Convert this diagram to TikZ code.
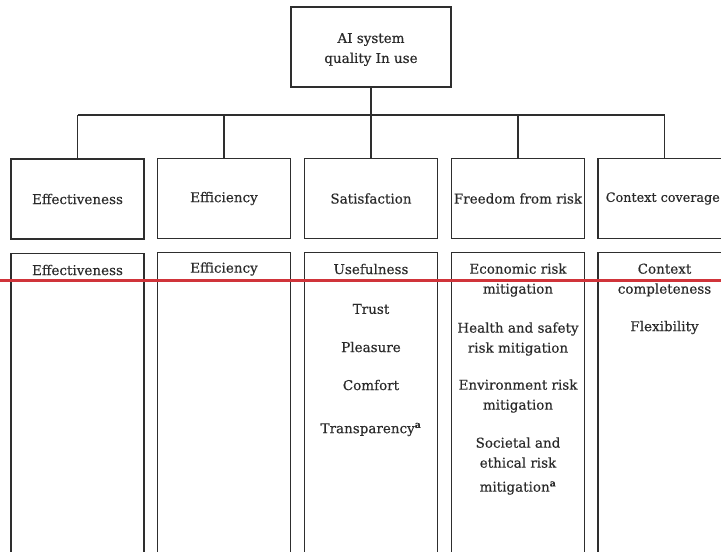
\documentclass[tikz,border=0pt]{standalone}
\usepackage{fontspec}
\setmainfont[FakeBold=0.4]{DejaVu Serif}
\definecolor{linec}{HTML}{2E2E2E}
\definecolor{textc}{HTML}{2A2A2A}
\definecolor{redl}{HTML}{D0343A}
\begin{document}
\begin{tikzpicture}[x=1pt,y=-1pt,
  box/.style={draw=linec, line width=1.2pt, minimum width=133pt, minimum height=80pt, inner sep=0pt},
  lbl/.style={text=textc, font=\fontsize{13.5}{20}\selectfont, align=center, inner sep=0pt},
  colbox/.style={draw=linec, line width=1.2pt, minimum width=133pt, minimum height=330pt, inner sep=0pt, anchor=north},
  link/.style={draw=linec, line width=1.2pt},
  redline/.style={draw=redl, line width=3pt}]
\useasboundingbox (0,0) rectangle (721,552);
\clip (0,0) rectangle (721,552);
% root
\node[box, minimum width=160pt] (root) at (371,47) {};
\node[lbl] (roott) at (371,49.5) {AI system\\quality In use};
% characteristics
\node[box, lbl] (c1) at (77.5,199) {Effectiveness};
\node[box, lbl] (c2) at (224,198.5) {Efficiency};
\node[box, lbl] (c3) at (371,198.5) {Satisfaction};
\node[box, lbl] (c4) at (518,198.5) {Freedom from risk};
\node[box] (c5) at (664.5,198.5) {};
\node[lbl, font=\fontsize{12.8}{20}\selectfont] (c5t) at (662.8,198.5) {Context coverage};
% connectors
\coordinate (bus) at (371,115);
\draw[link] (root.south) -- (bus);
\draw[link] (c1.north |- bus) -- (c5.north |- bus);
\foreach \n in {c1,c2,c3,c4,c5} \draw[link] (\n.north) -- (\n.north |- bus);
% sub-characteristic columns
\node[colbox] (d1) at (77.5,253) {};
\node[colbox] (d2) at (224,252) {};
\node[colbox] (d3) at (371,252) {};
\node[colbox] (d4) at (518,252) {};
\node[colbox] (d5) at (664.5,252) {};
% texts
\node[lbl] (t11) at (77.5,270) {Effectiveness};
\node[lbl] (t21) at (224,269) {Efficiency};
\node[lbl] (t31) at (371,269) {Usefulness};
\node[lbl] (t32) at (371,309) {Trust};
\node[lbl] (t33) at (371,347) {Pleasure};
\node[lbl] (t34) at (371,385) {Comfort};
\node[lbl] (t35) at (371,429.5) {Transparency\textsuperscript{\textbf{a}}};
\node[lbl] (t41) at (518,280) {Economic risk\\mitigation};
\node[lbl] (t42) at (518,339) {Health and safety\\risk mitigation};
\node[lbl] (t43) at (518,396) {Environment risk\\mitigation};
\node[lbl] (t44) at (518,466) {Societal and\\ethical risk\\[4pt]mitigation\textsuperscript{\textbf{a}}};
\node[lbl] (t51) at (664.5,280) {Context\\completeness};
\node[lbl] (t52) at (664.5,327.5) {Flexibility};
% red line
\coordinate (rl) at (0,280);
\coordinate (rr) at (721,280);
\draw[redline] (rl) -- (rr);
\end{tikzpicture}
\end{document}
